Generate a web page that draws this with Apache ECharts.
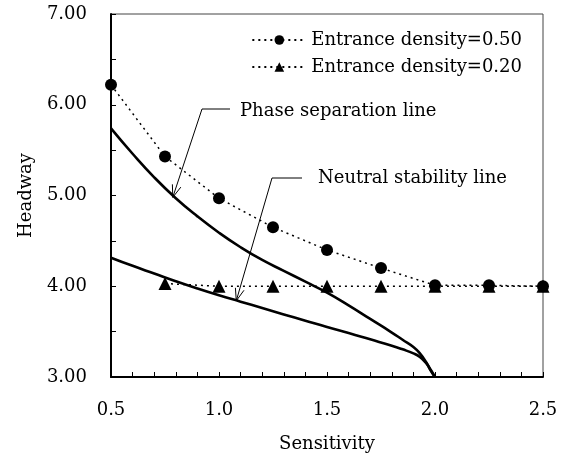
<!DOCTYPE html>
<html>
<head>
<meta charset="utf-8">
<script src="https://cdn.jsdelivr.net/npm/echarts@6/dist/echarts.min.js"></script>
<style>
  html, body { margin: 0; padding: 0; background: #fff; }
  #main { width: 565px; height: 459px; }
</style>
</head>
<body>
<div id="main"></div>
<script>
// measured points, entrance density series
const sensX = [0.50, 0.75, 1.00, 1.25, 1.50, 1.75, 2.00, 2.25, 2.50];
const dens050 = [6.22, 5.43, 4.97, 4.65, 4.40, 4.20, 4.01, 4.01, 4.00];
const sensX020 = [0.75, 1.00, 1.25, 1.50, 1.75, 2.00, 2.25, 2.50];
const dens020 = [4.03, 4.00, 4.00, 4.00, 4.00, 4.00, 4.00, 4.00];

// theory curves
const phaseX = [0.50, 0.60, 0.70, 0.80, 0.90, 1.00, 1.10, 1.20, 1.30, 1.40, 1.50, 1.60, 1.70, 1.80, 1.85, 1.90, 1.93, 1.96, 1.98, 2.00];
const phaseY = [5.74, 5.46, 5.20, 4.97, 4.77, 4.59, 4.43, 4.29, 4.17, 4.05, 3.93, 3.79, 3.64, 3.49, 3.41, 3.33, 3.26, 3.16, 3.07, 3.00];
const neutralX = [0.50, 0.60, 0.70, 0.80, 0.90, 1.00, 1.10, 1.20, 1.30, 1.40, 1.50, 1.60, 1.70, 1.80, 1.85, 1.90, 1.93, 1.96, 1.98, 2.00];
const neutralY = [4.315, 4.225, 4.14, 4.055, 3.975, 3.90, 3.83, 3.76, 3.69, 3.62, 3.55, 3.485, 3.415, 3.345, 3.305, 3.26, 3.22, 3.15, 3.08, 3.00];

const legendNames = ['Entrance density=0.50', 'Entrance density=0.20'];
const phaseTip = [0.786, 4.98];
const neutralTip = [1.08, 3.84];

const FONT = 'DejaVu Serif';

function zip(xs, ys) {
  return xs.map(function (x, i) { return [x, ys[i]]; });
}

const chart = echarts.init(document.getElementById('main'), null, { renderer: 'canvas' });

const option = {
  backgroundColor: '#ffffff',
  animation: false,
  textStyle: { fontFamily: FONT, color: '#000' },
  grid: {
    left: 111, right: 22, top: 14, bottom: 82,
    show: true, borderColor: '#444', borderWidth: 1
  },
  legend: {
    orient: 'vertical',
    right: 38,
    top: 26,
    itemWidth: 54,
    itemHeight: 12,
    itemGap: 9,
    data: legendNames,
    textStyle: { fontFamily: FONT, fontSize: 18, color: '#000' }
  },
  xAxis: {
    type: 'value',
    min: 0.5, max: 2.5, interval: 0.5,
    name: 'Sensitivity',
    nameLocation: 'middle',
    nameGap: 58,
    nameTextStyle: { fontFamily: FONT, fontSize: 18, color: '#000' },
    axisLine: { lineStyle: { color: '#000', width: 2 } },
    axisTick: { inside: true, length: 5, lineStyle: { color: '#000', width: 1 } },
    minorTick: { show: true, splitNumber: 5, length: 5, lineStyle: { color: '#000', width: 1 } },
    splitLine: { show: false },
    axisLabel: {
      margin: 24, fontFamily: FONT, fontSize: 18, color: '#000',
      formatter: function (v) { return v.toFixed(1); }
    }
  },
  yAxis: {
    type: 'value',
    min: 3, max: 7, interval: 1,
    name: 'Headway',
    nameLocation: 'middle',
    nameRotate: 90,
    nameGap: 76,
    nameTextStyle: { fontFamily: FONT, fontSize: 18, color: '#000' },
    axisLine: { show: true, lineStyle: { color: '#000', width: 2 } },
    axisTick: { show: true, inside: true, length: 5, lineStyle: { color: '#000', width: 1 } },
    minorTick: { show: true, splitNumber: 2, length: 5, lineStyle: { color: '#000', width: 1 } },
    splitLine: { show: false },
    axisLabel: {
      margin: 24, fontFamily: FONT, fontSize: 18, color: '#000',
      formatter: function (v) { return v.toFixed(2); }
    }
  },
  series: [
    {
      name: 'Phase separation line',
      type: 'line',
      data: zip(phaseX, phaseY),
      smooth: 0.5,
      showSymbol: false,
      lineStyle: { color: '#000', width: 2.6 }
    },
    {
      name: 'Neutral stability line',
      type: 'line',
      data: zip(neutralX, neutralY),
      smooth: 0.5,
      showSymbol: false,
      lineStyle: { color: '#000', width: 2.6 }
    },
    {
      name: legendNames[1],
      type: 'line',
      data: zip(sensX020, dens020),
      symbol: 'triangle',
      symbolSize: 13,
      itemStyle: { color: '#000' },
      lineStyle: { color: '#000', width: 1.5, type: [2, 4] }
    },
    {
      name: legendNames[0],
      type: 'line',
      data: zip(sensX, dens050),
      symbol: 'circle',
      symbolSize: 12,
      itemStyle: { color: '#000' },
      lineStyle: { color: '#000', width: 1.5, type: [2, 4] }
    }
  ]
};

chart.setOption(option);

// leader lines with open arrowheads pointing at the curves
function leader(tipData, elbow, end, label, labelPos) {
  const tip = chart.convertToPixel({ gridIndex: 0 }, tipData);
  const ang = Math.atan2(elbow[1] - tip[1], elbow[0] - tip[0]);
  const len = 13, spread = 0.35;
  const b1 = [tip[0] + len * Math.cos(ang + spread), tip[1] + len * Math.sin(ang + spread)];
  const b2 = [tip[0] + len * Math.cos(ang - spread), tip[1] + len * Math.sin(ang - spread)];
  return [
    { type: 'polyline', shape: { points: [end, elbow, tip] }, style: { stroke: '#000', lineWidth: 1, fill: null } },
    { type: 'polyline', shape: { points: [b1, tip, b2] }, style: { stroke: '#000', lineWidth: 1, fill: null } },
    {
      type: 'text', x: labelPos[0], y: labelPos[1],
      style: { text: label, font: '18px "DejaVu Serif"', fill: '#000', verticalAlign: 'middle', align: 'left' }
    }
  ];
}

chart.setOption({
  graphic: [].concat(
    leader(phaseTip, [202, 109], [230, 109], 'Phase separation line', [240, 111]),
    leader(neutralTip, [272, 178], [302, 178], 'Neutral stability line', [318, 178])
  )
});
</script>
</body>
</html>
